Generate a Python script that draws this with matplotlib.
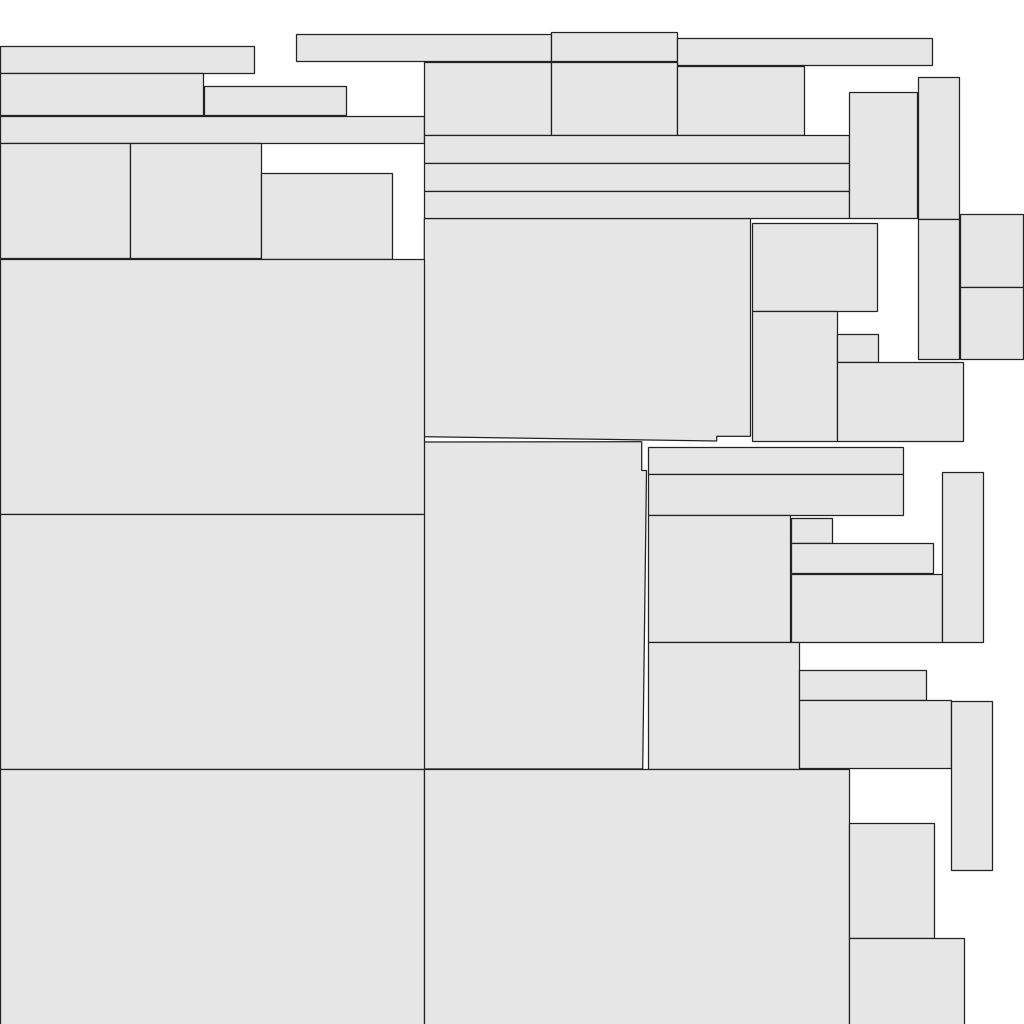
import matplotlib
matplotlib.use("Agg")
import matplotlib.pyplot as plt
from matplotlib.patches import Rectangle, Polygon

# rectangles in picture coords (y grows downward)
rect_left = [0, 0, 203.7, 0, 0, 130.3, 261.3, 0, 0, 0,
             295.7, 551, 677.3, 424.3, 551, 677.3, 424.3, 424.3, 424.3,
             849.3, 918.3, 918.3, 959.7, 959.7,
             751.7, 751.7, 837.3, 837.3,
             647.7, 647.7, 647.7, 791, 791, 791, 942.3,
             647.7, 799.3, 799.3, 950.7,
             424.3, 848.7, 848.7]
rect_top = [46, 73.3, 85.7, 115.7, 143.3, 143.3, 173, 258.5, 514, 769,
            34, 31.7, 38.3, 61.7, 61.7, 66.3, 135, 163, 191,
            92.3, 77.3, 218.7, 213.7, 286.7,
            222.7, 310.7, 334.3, 362.3,
            446.7, 474.3, 515.3, 518.3, 543, 573.7, 472.3,
            642, 670.3, 700.3, 700.7,
            769, 823.3, 938.3]
rect_right = [254, 203.3, 346, 423.7, 130.3, 261.3, 392.3, 424.3, 424.3, 424.3,
              551, 677.3, 932.3, 551, 677.3, 803.7, 848.7, 848.7, 848.7,
              917.3, 959, 959.3, 1022.7, 1022.7,
              877.3, 836.7, 878.3, 963.3,
              902.7, 902.7, 790.3, 831.7, 933.3, 942.3, 983.3,
              799, 925.7, 950.7, 992,
              848.7, 934, 964]
rect_bottom = [73.3, 115.3, 115.3, 142.7, 258.5, 258.5, 258.5, 514, 769, 1025,
               61.3, 61.3, 65.3, 135, 135, 135, 163, 191, 218.3,
               218.3, 218.7, 359.3, 286.7, 359.3,
               310.7, 441.3, 362.3, 441.3,
               474.3, 515, 642, 543, 572.7, 641.7, 641.7,
               769, 700, 768.3, 870,
               1025, 938.3, 1025]

# two cells that are not plain rectangles
cell_a_x = [424.3, 750.5, 750.5, 716.7, 716.7, 424.3]
cell_a_y = [218.5, 218.5, 436.3, 436.3, 441.0, 436.7]
cell_b_x = [424.3, 641.7, 641.7, 646.5, 642.7, 424.3]
cell_b_y = [442.0, 441.7, 470.5, 470.5, 769.0, 769.0]

FILL = "#e6e6e6"
EDGE = "#222222"
LW = 0.9

fig = plt.figure(figsize=(10.24, 10.24), dpi=100)
ax = fig.add_axes([0, 0, 1, 1])
ax.set_xlim(0, 1024)
ax.set_ylim(1024, 0)
ax.axis("off")

for xs, ys in [(cell_a_x, cell_a_y), (cell_b_x, cell_b_y)]:
    ax.add_patch(Polygon(list(zip(xs, ys)), closed=True,
                         facecolor=FILL, edgecolor=EDGE, linewidth=LW))

for l, t, r, b in zip(rect_left, rect_top, rect_right, rect_bottom):
    ax.add_patch(Rectangle((l, t), r - l, b - t,
                           facecolor=FILL, edgecolor=EDGE, linewidth=LW))

fig.savefig("out.png", dpi=100, facecolor="white")
